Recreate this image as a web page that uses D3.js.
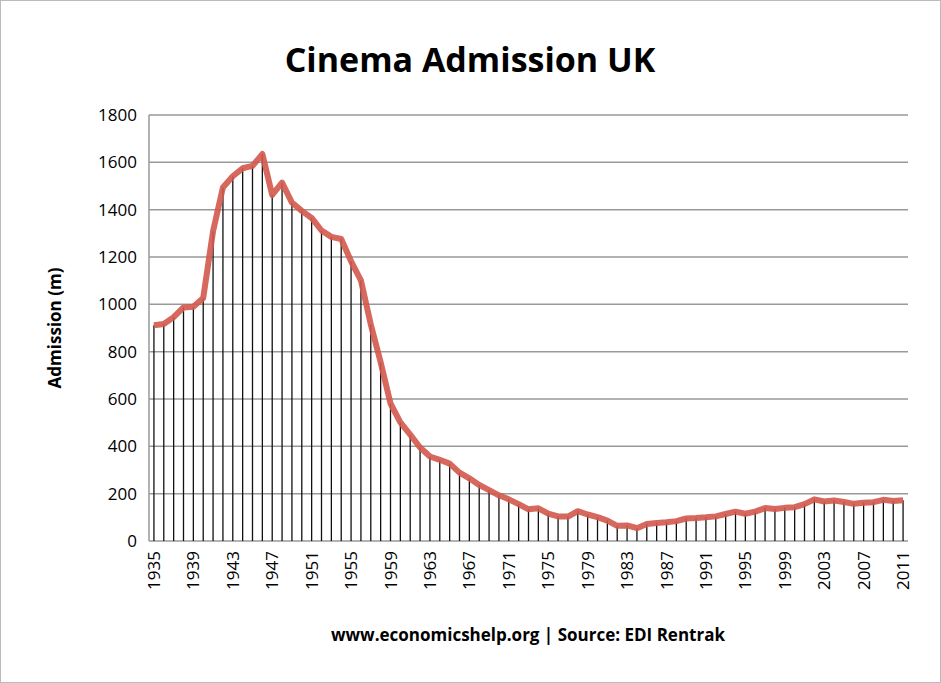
<!DOCTYPE html><html><head><meta charset="utf-8">
<script src="https://cdn.jsdelivr.net/npm/d3@7"></script>
<style>body{margin:0;background:#fff}svg{font-family:"Open Sans",Arial,sans-serif}</style></head><body>
<svg id="c" width="941" height="683"></svg>
<script>
const years = d3.range(1935, 2012);
const admissions = [912,917,946,987,990,1027,1309,1494,1541,1575,1585,1635,1462,1514,1430,1395,1365,1312,1285,1276,1182,1101,915,755,581,501,449,395,357,343,327,289,265,237,215,193,176,156,134,138,116,104,103,126,112,101,86,64,66,54,72,76,79,84,95,97,100,104,114,124,115,124,139,135,140,143,156,176,167,171,165,157,162,164,174,169,172];
const yTicks = [0,200,400,600,800,1000,1200,1400,1600,1800];
const title = "Cinema Admission UK";
const yLabel = "Admission (m)";
const xLabel = "www.economicshelp.org | Source: EDI Rentrak";

const svg = d3.select("#c");
svg.append("rect").attr("x",0.5).attr("y",0.5).attr("width",940).attr("height",682).attr("fill","#fff").attr("stroke","#bbb");
const L=149,R=908,T=115,B=541;
const x = d3.scaleBand().domain(years).range([L,R]);
const y = d3.scaleLinear().domain([0,1800]).range([B,T]);

svg.append("g").selectAll("line").data(yTicks).join("line")
 .attr("x1",L).attr("x2",R).attr("y1",d=>y(d)).attr("y2",d=>y(d)).attr("stroke","#999").attr("stroke-width",1.5);
svg.append("line").attr("x1",L).attr("x2",L).attr("y1",T).attr("y2",B).attr("stroke","#999").attr("stroke-width",1.5);

const cx = d=>x(d)+x.bandwidth()/2;
svg.append("g").selectAll("line").data(years).join("line")
 .attr("x1",cx).attr("x2",cx).attr("y1",(d,i)=>y(admissions[i])).attr("y2",B).attr("stroke","#111").attr("stroke-width",1.3);

svg.append("path").datum(admissions).attr("fill","none").attr("stroke","#d2584c").attr("stroke-opacity",0.9)
 .attr("stroke-width",6).attr("stroke-linejoin","round")
 .attr("d",d3.line().x((d,i)=>cx(years[i])).y(d=>y(d)));

svg.append("g").selectAll("text").data(yTicks).join("text")
 .attr("x",L-12).attr("y",d=>y(d)+6).attr("text-anchor","end").attr("font-size",17).text(d=>d);

svg.append("g").selectAll("text").data(years.filter(v=>(v-1935)%4===0)).join("text")
 .attr("transform",d=>`translate(${cx(d)+6},${B+10}) rotate(-90)`).attr("text-anchor","end").attr("font-size",17).text(d=>d);

svg.append("text").attr("x",470).attr("y",72).attr("text-anchor","middle").attr("font-size",34).attr("font-weight","bold").text(title);
svg.append("text").attr("transform",`translate(61,${(T+B)/2}) rotate(-90)`).attr("text-anchor","middle").attr("font-size",17).attr("font-weight","bold").text(yLabel);
svg.append("text").attr("x",528).attr("y",641).attr("text-anchor","middle").attr("font-size",17).attr("font-weight","bold").text(xLabel);
</script></body></html>
